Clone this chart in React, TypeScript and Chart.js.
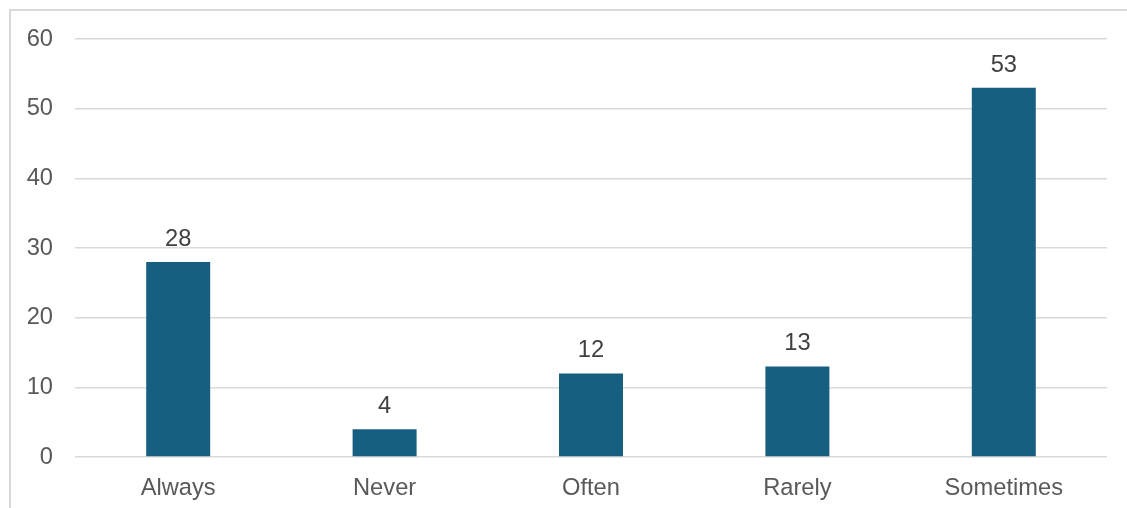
import React, { useEffect, useRef } from "react";
import { Chart, registerables } from "chart.js";

Chart.register(...registerables);

const categories: string[] = ["Always", "Never", "Often", "Rarely", "Sometimes"];
const counts: number[] = [28, 4, 12, 13, 53];
const yTicks: number[] = [0, 10, 20, 30, 40, 50, 60];

const BAR_COLOR = "#175f80";
const GRID_COLOR = "#d9d9d9";
const FONT_FAMILY = "'Liberation Sans', Arial, sans-serif";
const FONT_SIZE = 23.7;

// Light frame around the plot, open on the right and bottom edges
const framePlugin = {
  id: "frame",
  beforeDraw(chart: Chart) {
    const ctx = chart.ctx;
    ctx.save();
    ctx.strokeStyle = GRID_COLOR;
    ctx.lineWidth = 2;
    ctx.strokeRect(10, 10, chart.width + 20, chart.height + 20);
    ctx.restore();
  },
};

// Value labels drawn above each bar
const valueLabelPlugin = {
  id: "valueLabels",
  afterDatasetsDraw(chart: Chart) {
    const ctx = chart.ctx;
    const meta = chart.getDatasetMeta(0);
    const data = chart.data.datasets[0].data as number[];
    ctx.save();
    ctx.fillStyle = "#404040";
    ctx.font = `${FONT_SIZE}px ${FONT_FAMILY}`;
    ctx.textAlign = "center";
    ctx.textBaseline = "alphabetic";
    meta.data.forEach((bar: any, i: number) => {
      ctx.fillText(String(data[i]), bar.x, bar.y - 16);
    });
    ctx.restore();
  },
};

export default function App() {
  const canvasRef = useRef<HTMLCanvasElement | null>(null);

  useEffect(() => {
    if (!canvasRef.current) return;
    const chart = new Chart(canvasRef.current, {
      type: "bar",
      data: {
        labels: categories,
        datasets: [
          {
            data: counts,
            backgroundColor: BAR_COLOR,
            borderWidth: 0,
            barPercentage: 0.31,
            categoryPercentage: 1,
          },
        ],
      },
      options: {
        responsive: false,
        animation: false,
        layout: { padding: { left: 10, right: 20, top: 39, bottom: 0 } },
        plugins: {
          legend: { display: false },
          tooltip: { enabled: false },
        },
        scales: {
          x: {
            grid: { display: false },
            border: { display: false },
            ticks: {
              color: "#595959",
              font: { family: FONT_FAMILY, size: FONT_SIZE },
              padding: 9,
              maxRotation: 0,
            },
            afterFit(scale: any) {
              scale.height = 51;
            },
          },
          y: {
            min: 0,
            max: 60,
            afterBuildTicks(scale: any) {
              scale.ticks = yTicks.map((v) => ({ value: v }));
            },
            grid: {
              color: GRID_COLOR,
              lineWidth: 1.5,
              drawTicks: false,
            },
            border: { display: false },
            ticks: {
              color: "#595959",
              font: { family: FONT_FAMILY, size: FONT_SIZE },
              padding: 22,
            },
            afterFit(scale: any) {
              scale.width = 65;
            },
          },
        },
      },
      plugins: [framePlugin, valueLabelPlugin],
    });
    return () => chart.destroy();
  }, []);

  return (
    <div style={{ position: "fixed", left: 0, top: 0, width: 1127, height: 508, background: "#ffffff" }}>
      <canvas ref={canvasRef} width={1127} height={508} />
    </div>
  );
}
